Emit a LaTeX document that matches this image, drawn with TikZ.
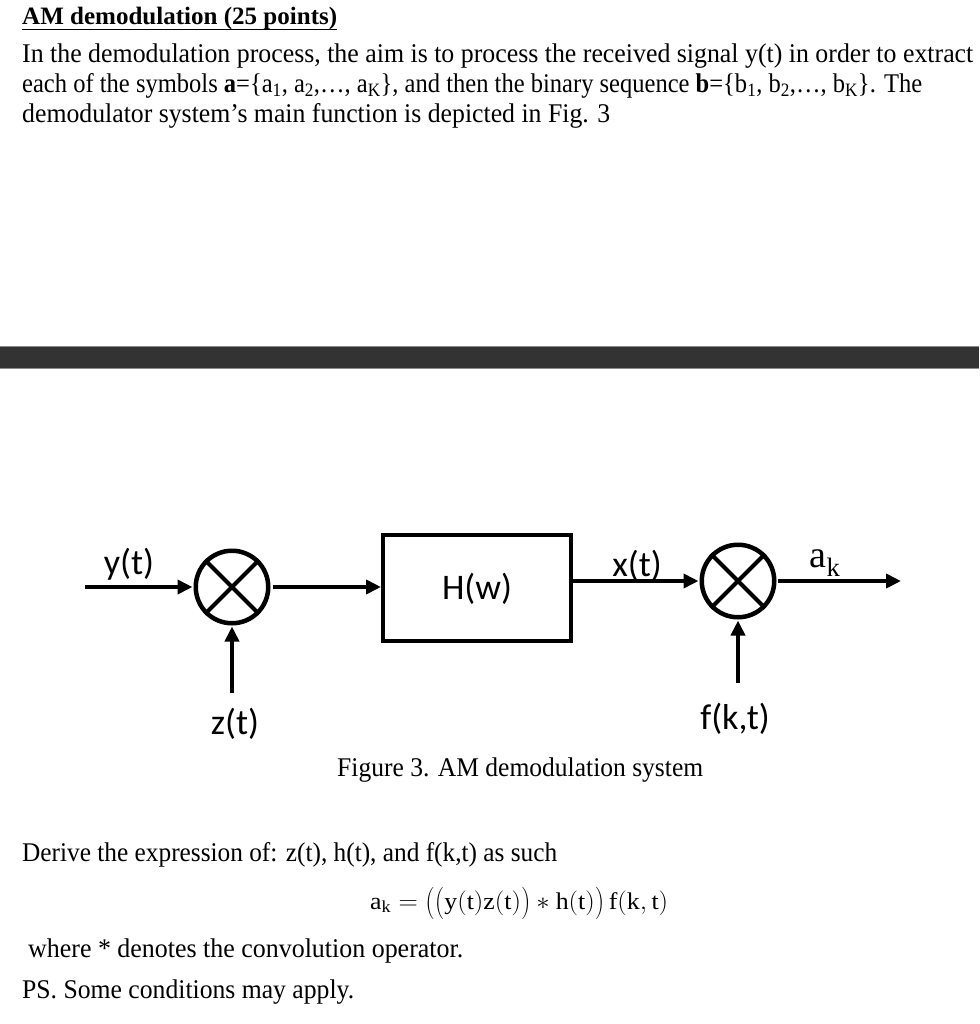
\documentclass[tikz,border=0pt]{standalone}
\usepackage{amsmath}
\usepackage{fontspec}
\setmainfont{Liberation Serif}
\newfontfamily\calib{Carlito}
\usepackage{graphicx}
\usetikzlibrary{arrows.meta}
\newcommand\fitw[2]{\resizebox{#1}{\height}{#2}}
\newcommand\tallpo{\mathopen{\raisebox{-0.1em}{\scalebox{1}[1.3]{$($}}}}
\newcommand\tallpc{\mathclose{\raisebox{-0.1em}{\scalebox{1}[1.3]{$)$}}}}
\definecolor{barc}{HTML}{333333}
\definecolor{baredge}{HTML}{8A8A8A}
\begin{document}
\begin{tikzpicture}[x=1pt,y=-1pt,
  txt/.style={anchor=base west, inner sep=0pt, font=\fontsize{27}{31}\selectfont},
  lab/.style={inner sep=0pt, font=\calib\fontsize{36}{40}\selectfont},
  mixer/.style={circle, draw, line width=4.5pt, minimum size=72.5pt, inner sep=0pt},
  blk/.style={draw, line width=4pt, minimum width=188pt, minimum height=106pt, inner sep=0pt},
  sig/.style={line width=4.5pt, -{Triangle[length=15pt,width=14pt]}},
  crossln/.style={line width=4pt}
  ]
\useasboundingbox (0,0) rectangle (979,1024);
\fill[white] (0,0) rectangle (979,1024);

% ---- header text
\node[txt, font=\bfseries\fontsize{25}{28}\selectfont] (title) at (22,25)
  {\fitw{315pt}{AM demodulation (25 points)}};
\draw[line width=1.6pt] (title.base west) ++(0,4.5) coordinate (ul1) -- ++(315,0) coordinate (ul2);
\node[txt] (l1) at (22,63) {\fitw{951pt}{In the demodulation process, the aim is to process the received signal y(t) in order to extract}};
\node[txt] (l2) at (22,93) {\fitw{900pt}{each of the symbols \textbf{a}=\{a\textsubscript{1}, a\textsubscript{2},…, a\textsubscript{K}\}, and then the binary sequence \textbf{b}=\{b\textsubscript{1}, b\textsubscript{2},…, b\textsubscript{K}\}. The}};
\node[txt] (l3) at (22,123) {\fitw{588pt}{demodulator system's main function is depicted in Fig. 3}};

% ---- dark bar
\fill[barc] (0,346) rectangle (979,369);
\draw[baredge, line width=1pt] (0,346.5) -- (979,346.5) (0,368.5) -- (979,368.5);

% ---- block diagram
\node[mixer] (m1) at (232,587) {};
\node[mixer] (m2) at (738,581) {};
\draw[crossln] (m1.45) -- (m1.225) (m1.135) -- (m1.315);
\draw[crossln] (m2.45) -- (m2.225) (m2.135) -- (m2.315);
\node[blk] (H) at (477,588) {};
\node[lab] (Hl) at (477,589) {H(w)};

\coordinate (yin) at (85,587);
\coordinate (zin) at (232,693);
\coordinate (fin) at (738,683);
\coordinate (aout) at (901,581);

\draw[sig, shorten >=1pt] (yin) -- (m1.west);
\draw[sig, shorten <=2pt] (m1.east) -- (m1.east -| H.west);
\draw[sig, shorten >=1pt] (zin) -- (m1.south);
\draw[sig, shorten >=1pt] (H.east |- m2.west) -- (m2.west);
\draw[sig, shorten <=1pt] (m2.east) -- (aout);
\draw[sig, shorten >=1pt] (fin) -- (m2.south);

\node[lab] (yl) at (129,564) {y(t)};
\node[lab] (zl) at (235,724) {z(t)};
\node[lab] (xl) at (637,566) {x(t)};
\node[lab] (fl) at (735,719) {f(k,t)};
\node[inner sep=0pt, anchor=base] (al) at (825,567) {\fontsize{38}{40}\selectfont$\mathrm{a}_{\mathrm{k}}$};

% ---- caption and question
\node[txt] (cap) at (337,776) {\fitw{366pt}{Figure 3. AM demodulation system}};
\node[txt] (der) at (22,861) {\fitw{535pt}{Derive the expression of: z(t), h(t), and f(k,t) as such}};
\node[txt] (eq) at (370,909) {\fitw{298pt}{\fontsize{24}{28}\selectfont$\mathrm{a_k} = \tallpo\tallpo\mathrm{y(t)z(t)}\tallpc \ast \mathrm{h(t)}\tallpc\,\mathrm{f(k,t)}$}};
\node[txt] (wh) at (28,957) {\fitw{435pt}{where * denotes the convolution operator.}};
\node[txt] (ps) at (22,998) {\fitw{332pt}{PS. Some conditions may apply.}};
\end{tikzpicture}
\end{document}
